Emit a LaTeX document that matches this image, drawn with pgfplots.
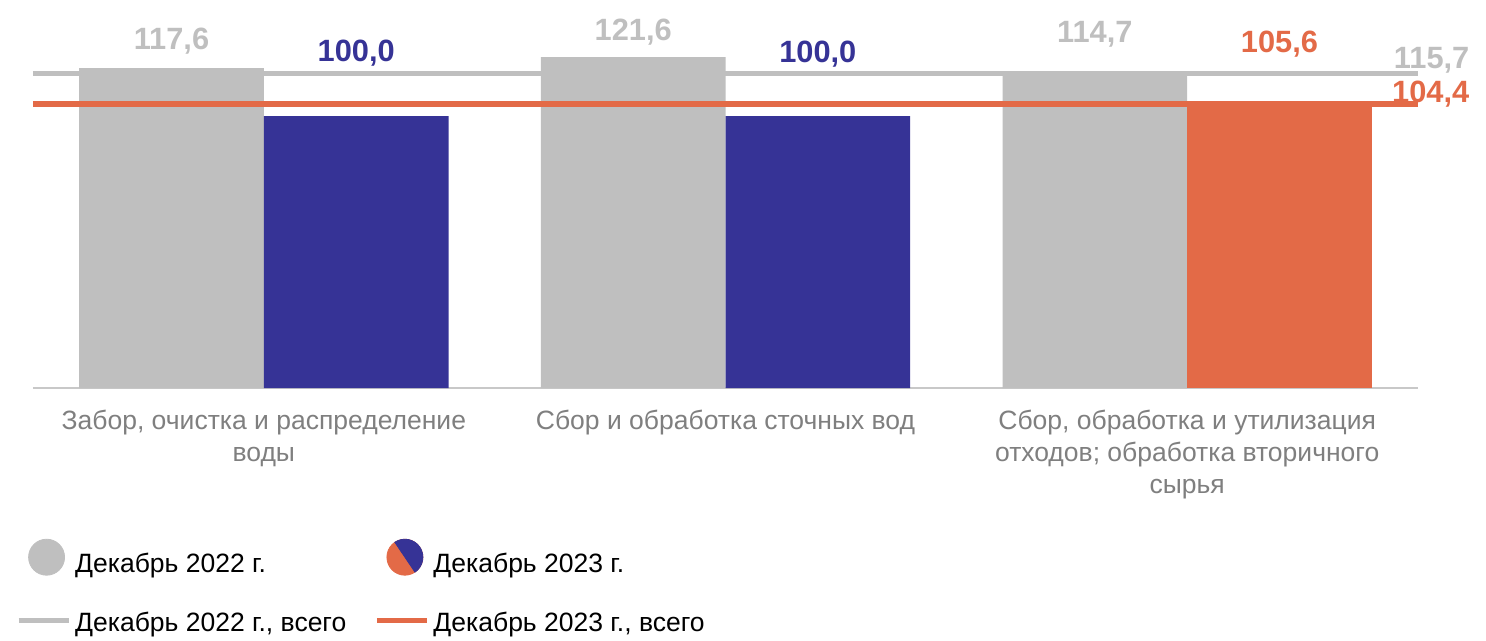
\documentclass[border=0pt]{standalone}
\usepackage{fontspec}
\setmainfont{Liberation Sans}
\usepackage{pgfplots}
\pgfplotsset{compat=1.18}
\definecolor{cgray}{HTML}{BFBFBF}
\definecolor{cnavy}{HTML}{363396}
\definecolor{corange}{HTML}{E36A47}
\definecolor{ctext}{HTML}{7F7F7F}
\definecolor{caxis}{HTML}{C8C8C8}
\begin{document}
\begin{tikzpicture}
\begin{axis}[
  at={(16.5pt,-194pt)}, anchor=south west,
  scale only axis, width=692.5pt, height=190.4pt,
  xmin=-0.5, xmax=2.5, ymin=0, ymax=140,
  axis x line*=bottom, axis y line=none,
  x axis line style={draw=caxis, line width=1pt, -},
  xtick={0,1,2}, major tick length=0pt, ytick=\empty,
  xticklabels={{Забор, очистка и распределение\\воды},{Сбор и обработка сточных вод},{Сбор, обработка и утилизация\\отходов; обработка вторичного\\сырья}},
  xticklabel style={align=center, font=\fontsize{13.25}{16}\selectfont, text=ctext, inner sep=0pt, anchor=north, yshift=-11pt},
  bar width=0.4, clip=false,
  legend columns=2, legend cell align=left,
  legend style={at={(-0.01228,-0.3895)}, anchor=north west, draw=none, fill=none,
    inner sep=0pt, outer sep=0pt, font=\fontsize{13.25}{16}\selectfont,
    row sep=18.35pt, nodes={inner sep=0pt},
    /tikz/every odd column/.append style={column sep=2pt},
    /tikz/every even column/.append style={column sep=14pt}},
]
\addplot[ybar, bar shift=-0.2, fill=cgray, draw=none, forget plot] coordinates {(0,117.6) (1,121.6) (2,114.7)};
\addplot[ybar, bar shift=0.2, fill=cnavy, draw=none, forget plot] coordinates {(0,100.0) (1,100.0)};
\addplot[ybar, bar shift=0.2, fill=corange, draw=none, forget plot] coordinates {(2,105.6)};
\addplot[cgray, line width=2.6pt, forget plot] coordinates {(-0.5,115.7) (2.5,115.7)};
\addplot[corange, line width=2.6pt, forget plot] coordinates {(-0.5,104.4) (2.5,104.4)};

\begin{scope}[every node/.style={font=\bfseries\fontsize{15.4}{18}\selectfont, inner sep=0pt, anchor=base}]
\node[text=cgray] at (axis cs:-0.2,124.3) {117,6};
\node[text=cnavy] at (axis cs:0.2,120.2) {100,0};
\node[text=cgray] at (axis cs:0.8,127.9) {121,6};
\node[text=cnavy] at (axis cs:1.2,119.5) {100,0};
\node[text=cgray] at (axis cs:1.8,127.2) {114,7};
\node[text=corange] at (axis cs:2.2,123.2) {105,6};
\node[text=cgray, anchor=base east] at (axis cs:2.612,117.6) {115,7};
\node[text=corange, anchor=base east] at (axis cs:2.612,104.8) {104,4};
\end{scope}

\addlegendimage{legend image code/.code={\path[draw=none,fill=none] (0pt,0pt) -- (25pt,0pt); \fill[cgray] (14pt,3.4pt) circle[radius=9pt];}}
\addlegendentry{Декабрь 2022 г.}
\addlegendimage{legend image code/.code={\path[draw=none,fill=none] (0pt,0pt) -- (25pt,0pt); \fill[corange] (14pt,3.4pt) circle[radius=9pt]; \fill[cnavy] (14pt,3.4pt) ++(124:9pt) arc[start angle=124,end angle=-56,radius=9pt] -- cycle;}}
\addlegendentry{Декабрь 2023 г.}
\addlegendimage{legend image code/.code={\draw[cgray, line width=2.6pt] (0pt,1.5pt) -- (25pt,1.5pt);}}
\addlegendentry{Декабрь 2022 г., всего}
\addlegendimage{legend image code/.code={\draw[corange, line width=2.6pt] (0pt,1.5pt) -- (25pt,1.5pt);}}
\addlegendentry{Декабрь 2023 г., всего}
\end{axis}
\pgfresetboundingbox
\path[use as bounding box] (0,0) rectangle (743pt,-320.5pt);
\end{tikzpicture}
\end{document}
